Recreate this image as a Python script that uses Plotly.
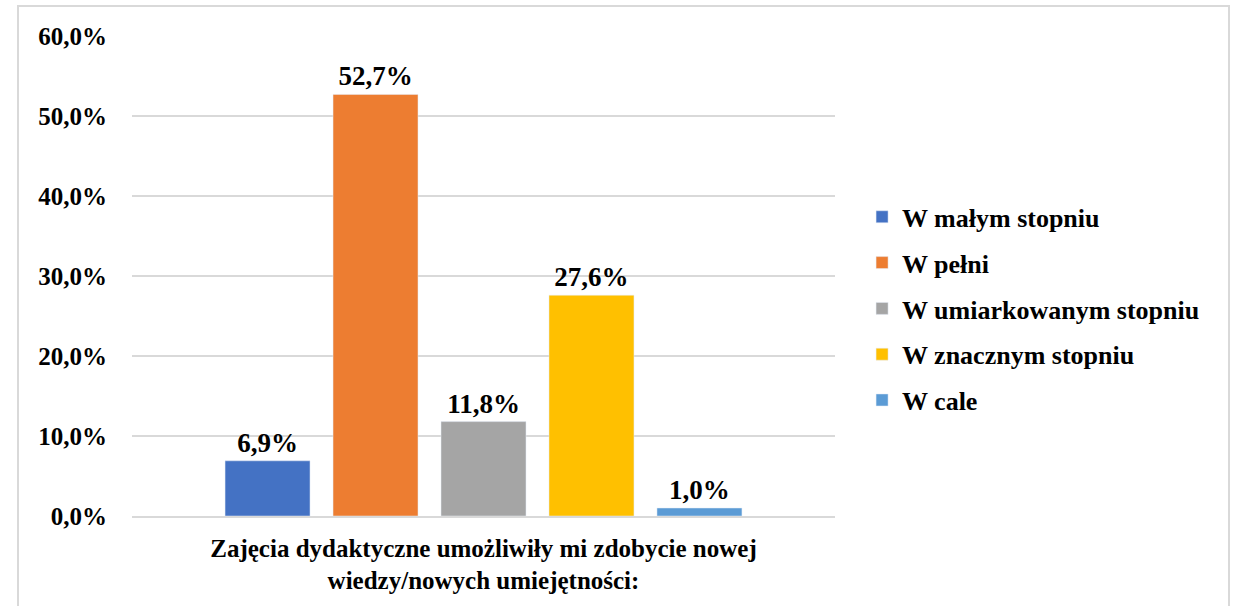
import plotly.graph_objects as go

category = ["Zajęcia dydaktyczne umożliwiły mi zdobycie nowej<br>wiedzy/nowych umiejętności:"]
series_names = ["W małym stopniu", "W pełni", "W umiarkowanym stopniu", "W znacznym stopniu", "W cale"]
series_values = [0.069, 0.527, 0.118, 0.276, 0.010]
series_colors = ["#4472C4", "#ED7D31", "#A5A5A5", "#FFC000", "#5B9BD5"]
y_ticks = [0, 0.1, 0.2, 0.3, 0.4, 0.5, 0.6]

FONT = "Liberation Serif, Times New Roman, serif"
FS = 26

fig = go.Figure()
for i, (name, val, col) in enumerate(zip(series_names, series_values, series_colors)):
    fig.add_trace(go.Bar(
        x=category, y=[val], name=name, marker_color=col,
        legendgroup=f"g{i}",
        texttemplate="<b>%{y:.1%}</b>", textposition="outside",
        textfont=dict(family=FONT, size=FS + 1, color="#000000"),
        cliponaxis=False,
    ))

fig.update_layout(
    width=1236, height=606,
    margin=dict(l=132, r=401, t=36, b=88),
    paper_bgcolor="white", plot_bgcolor="white",
    separators=", ",
    barmode="group", bargap=0.232, bargroupgap=0.213,
    font=dict(family=FONT, size=FS, color="#000000"),
    legend=dict(
        x=1.0385, xanchor="left", y=0.4315, yanchor="middle",
        font=dict(family=FONT, size=FS, color="#000000", weight="bold"),
        tracegroupgap=9, traceorder="grouped",
        itemclick=False,
    ),
    showlegend=True,
    yaxis=dict(
        range=[0, 0.6], tickvals=y_ticks, tickformat=".1%",
        showgrid=True, gridcolor="#D9D9D9", gridwidth=1.5,
        zeroline=False, showline=False,
        tickfont=dict(family=FONT, size=FS - 1, color="#000000", weight="bold"),
        ticklabelstandoff=24,
    ),
    xaxis=dict(
        showline=True, linecolor="#D9D9D9", linewidth=1.5,
        tickfont=dict(family=FONT, size=FS - 1, color="#000000", weight="bold"),
        ticks="", ticklabelstandoff=9,
    ),
    shapes=[dict(
        type="rect", xref="paper", yref="paper",
        x0=(18 - 132) / 703, x1=(1229 - 132) / 703,
        y0=-0.2, y1=(518 - 6) / 482,
        line=dict(color="#D9D9D9", width=2), fillcolor="rgba(0,0,0,0)", layer="below",
    )],
)

fig.write_html("out.html", config={"displayModeBar": False},
               post_script="document.body.style.margin='0px';")
